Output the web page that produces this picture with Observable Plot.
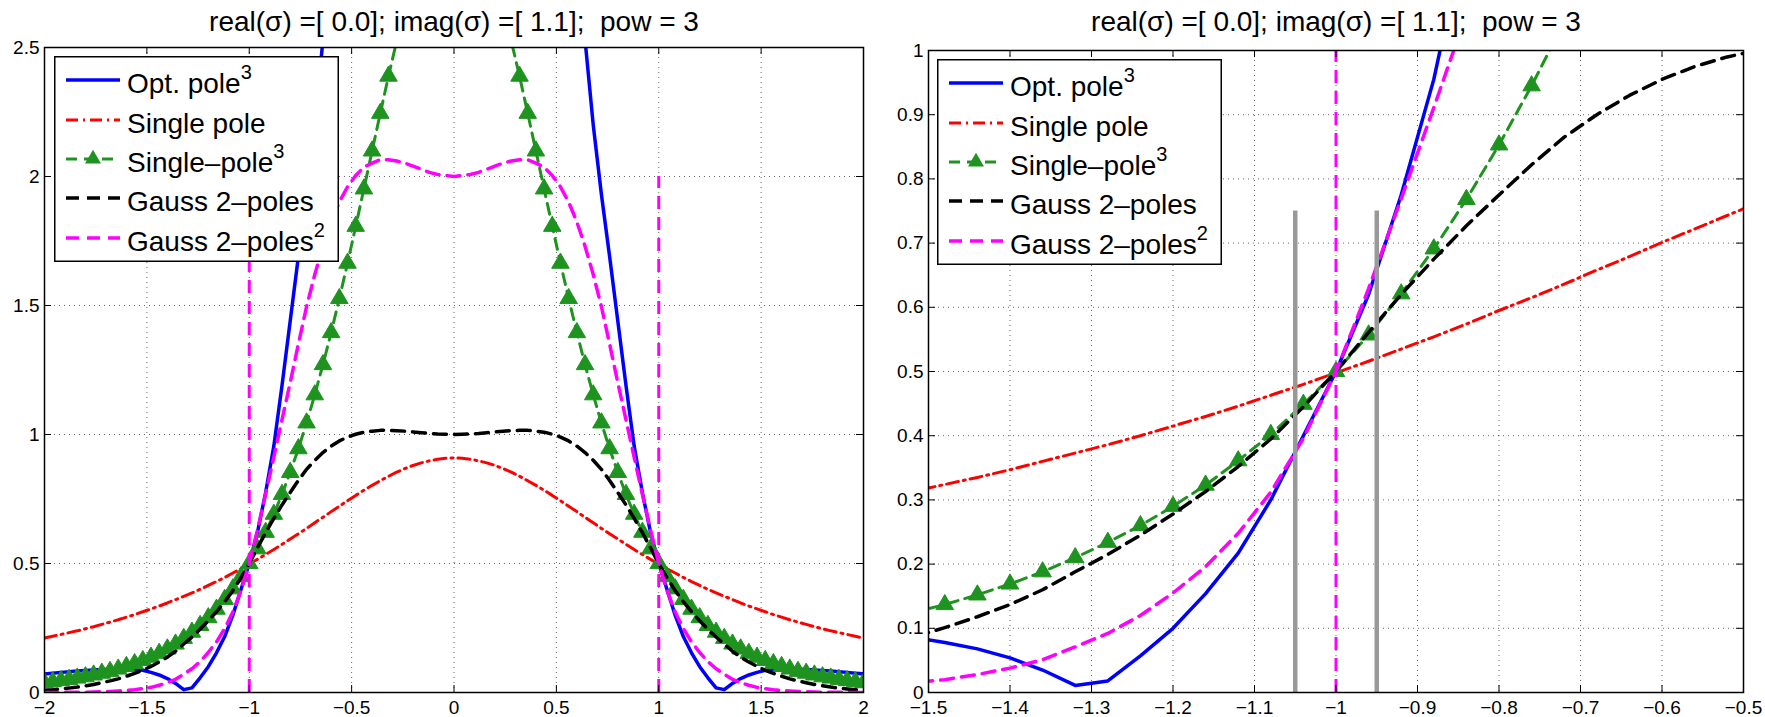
<!DOCTYPE html>
<html>
<head>
<meta charset="utf-8">
<script src="https://cdn.jsdelivr.net/npm/d3@7"></script>
<script src="https://cdn.jsdelivr.net/npm/@observablehq/plot@0.6"></script>
<style>
  html, body { margin: 0; padding: 0; background: #fff; }
  #wrap { position: relative; width: 1765px; height: 717px; background: #fff; overflow: hidden; font-family: "Liberation Sans", Arial, sans-serif; }
  .panel { position: absolute; top: 0; }
  .legend { position: absolute; }
</style>
</head>
<body>
<div id="wrap">
  <div id="left" class="panel" style="left:0px"></div>
  <div id="right" class="panel" style="left:880px"></div>
</div>
<script>
// ---- data ----
const xs = [-2, -1.96, -1.92, -1.88, -1.84, -1.8, -1.76, -1.72, -1.68, -1.64, -1.6, -1.56, -1.52, -1.48, -1.44, -1.4, -1.36, -1.32, -1.28, -1.24, -1.2, -1.16, -1.12, -1.08, -1.04, -1, -0.96, -0.92, -0.88, -0.84, -0.8, -0.76, -0.72, -0.68, -0.64, -0.6, -0.56, -0.52, -0.48, -0.44, -0.4, -0.36, -0.32, -0.28, -0.24, -0.2, -0.16, -0.12, -0.08, -0.04, 0, 0.04, 0.08, 0.12, 0.16, 0.2, 0.24, 0.28, 0.32, 0.36, 0.4, 0.44, 0.48, 0.52, 0.56, 0.6, 0.64, 0.68, 0.72, 0.76, 0.8, 0.84, 0.88, 0.92, 0.96, 1, 1.04, 1.08, 1.12, 1.16, 1.2, 1.24, 1.28, 1.32, 1.36, 1.4, 1.44, 1.48, 1.52, 1.56, 1.6, 1.64, 1.68, 1.72, 1.76, 1.8, 1.84, 1.88, 1.92, 1.96, 2];

const optPole3 = [0.072, 0.075, 0.078, 0.080, 0.083, 0.085, 0.087, 0.089, 0.090, 0.091, 0.091, 0.090, 0.086, 0.078, 0.068, 0.054, 0.035, 0.011, 0.018, 0.057, 0.100, 0.154, 0.217, 0.30, 0.40, 0.50, 0.62, 0.775, 0.955, 1.19, 1.44, 1.69, 1.93, 2.20, 2.53, 2.95, 3.4, 3.9, 4.4, 4.9, 5.3, 5.7, 6.0, 6.3, 6.5, 6.7, 6.85, 6.95, 7.0, 7.05, 7.05, 7.05, 7.0, 6.95, 6.85, 6.7, 6.5, 6.3, 6.0, 5.7, 5.3, 4.9, 4.4, 3.9, 3.4, 2.95, 2.53, 2.20, 1.93, 1.69, 1.44, 1.19, 0.955, 0.775, 0.62, 0.50, 0.40, 0.30, 0.217, 0.154, 0.100, 0.057, 0.018, 0.011, 0.035, 0.054, 0.068, 0.078, 0.086, 0.090, 0.091, 0.091, 0.090, 0.089, 0.087, 0.085, 0.083, 0.080, 0.078, 0.075, 0.072];

const singlePole = [0.211, 0.218, 0.225, 0.232, 0.239, 0.247, 0.255, 0.264, 0.273, 0.282, 0.292, 0.302, 0.313, 0.324, 0.335, 0.347, 0.360, 0.373, 0.386, 0.400, 0.415, 0.430, 0.446, 0.463, 0.480, 0.498, 0.516, 0.535, 0.554, 0.574, 0.595, 0.615, 0.636, 0.658, 0.679, 0.701, 0.722, 0.743, 0.764, 0.784, 0.803, 0.821, 0.838, 0.854, 0.868, 0.880, 0.890, 0.898, 0.904, 0.908, 0.909, 0.908, 0.904, 0.898, 0.890, 0.880, 0.868, 0.854, 0.838, 0.821, 0.803, 0.784, 0.764, 0.743, 0.722, 0.701, 0.679, 0.658, 0.636, 0.615, 0.595, 0.574, 0.554, 0.535, 0.516, 0.498, 0.480, 0.463, 0.446, 0.430, 0.415, 0.400, 0.386, 0.373, 0.360, 0.347, 0.335, 0.324, 0.313, 0.302, 0.292, 0.282, 0.273, 0.264, 0.255, 0.247, 0.239, 0.232, 0.225, 0.218, 0.211];

const singlePole3 = [0.038, 0.042, 0.046, 0.051, 0.056, 0.061, 0.068, 0.075, 0.082, 0.091, 0.101, 0.112, 0.124, 0.137, 0.152, 0.169, 0.188, 0.210, 0.234, 0.260, 0.290, 0.323, 0.361, 0.402, 0.449, 0.500, 0.557, 0.621, 0.691, 0.768, 0.853, 0.945, 1.045, 1.154, 1.271, 1.395, 1.527, 1.664, 1.807, 1.952, 2.099, 2.245, 2.389, 2.524, 2.651, 2.764, 2.862, 2.941, 2.999, 3.035, 3.047, 3.035, 2.999, 2.941, 2.862, 2.764, 2.651, 2.524, 2.389, 2.245, 2.099, 1.952, 1.807, 1.664, 1.527, 1.395, 1.271, 1.154, 1.045, 0.945, 0.853, 0.768, 0.691, 0.621, 0.557, 0.500, 0.449, 0.402, 0.361, 0.323, 0.290, 0.260, 0.234, 0.210, 0.188, 0.169, 0.152, 0.137, 0.124, 0.112, 0.101, 0.091, 0.082, 0.075, 0.068, 0.061, 0.056, 0.051, 0.046, 0.042, 0.038];

const gauss2Poles = [0.009, 0.011, 0.014, 0.017, 0.021, 0.026, 0.031, 0.038, 0.045, 0.053, 0.063, 0.074, 0.086, 0.101, 0.118, 0.137, 0.160, 0.188, 0.215, 0.245, 0.278, 0.313, 0.352, 0.395, 0.445, 0.500, 0.561, 0.620, 0.675, 0.727, 0.775, 0.822, 0.865, 0.900, 0.930, 0.955, 0.975, 0.990, 1.001, 1.009, 1.013, 1.016, 1.016, 1.015, 1.013, 1.010, 1.007, 1.004, 1.002, 1.001, 1.000, 1.001, 1.002, 1.004, 1.007, 1.010, 1.013, 1.015, 1.016, 1.016, 1.013, 1.009, 1.001, 0.990, 0.975, 0.955, 0.930, 0.900, 0.865, 0.822, 0.775, 0.727, 0.675, 0.620, 0.561, 0.500, 0.445, 0.395, 0.352, 0.313, 0.278, 0.245, 0.215, 0.188, 0.160, 0.137, 0.118, 0.101, 0.086, 0.074, 0.063, 0.053, 0.045, 0.038, 0.031, 0.026, 0.021, 0.017, 0.014, 0.011, 0.009];

const gauss2PolesSq = [0.000, 0.000, 0.000, 0.001, 0.001, 0.001, 0.002, 0.003, 0.004, 0.006, 0.008, 0.011, 0.015, 0.020, 0.028, 0.038, 0.051, 0.071, 0.092, 0.120, 0.155, 0.196, 0.248, 0.312, 0.396, 0.500, 0.629, 0.769, 0.911, 1.057, 1.201, 1.351, 1.496, 1.620, 1.730, 1.824, 1.901, 1.960, 2.004, 2.036, 2.052, 2.065, 2.065, 2.060, 2.052, 2.040, 2.028, 2.016, 2.008, 2.004, 2.000, 2.004, 2.008, 2.016, 2.028, 2.040, 2.052, 2.060, 2.065, 2.065, 2.052, 2.036, 2.004, 1.960, 1.901, 1.824, 1.730, 1.620, 1.496, 1.351, 1.201, 1.057, 0.911, 0.769, 0.629, 0.500, 0.396, 0.312, 0.248, 0.196, 0.155, 0.120, 0.092, 0.071, 0.051, 0.038, 0.028, 0.020, 0.015, 0.011, 0.008, 0.006, 0.004, 0.003, 0.002, 0.001, 0.001, 0.001, 0.000, 0.000, 0.000];

const cutoffX = [-1, 1];
const cutoffLow = [0, 0];
const cutoffHigh = [2, 2];
const windowX = [-1.05, -0.95];
const windowLow = [0, 0];
const windowHigh = [0.75, 0.75];

const xTicksLeft = [-2, -1.5, -1, -0.5, 0, 0.5, 1, 1.5, 2];
const yTicksLeft = [0, 0.5, 1, 1.5, 2, 2.5];
const xTicksRight = [-1.5, -1.4, -1.3, -1.2, -1.1, -1, -0.9, -0.8, -0.7, -0.6, -0.5];
const yTicksRight = [0, 0.1, 0.2, 0.3, 0.4, 0.5, 0.6, 0.7, 0.8, 0.9, 1];

const titleText = "real(σ) =[ 0.0]; imag(σ) =[ 1.1];  pow = 3";
const legendNames = ["Opt. pole", "Single pole", "Single\u2013pole", "Gauss 2\u2013poles", "Gauss 2\u2013poles"];
const legendSup = ["3", "", "3", "", "2"];

// ---- styles ----
const FONT = '"Liberation Sans", Arial, Helvetica, sans-serif';
const BLUE = "#0000ff", RED = "#ff0000", GREEN = "#1f931f", BLACK = "#000000", MAGENTA = "#ff00ff", GRAY = "#999999";
const lineStyles = [
  {stroke: BLUE, strokeWidth: 3.5, dash: null},
  {stroke: RED, strokeWidth: 3, dash: "12,5,2,5"},
  {stroke: GREEN, strokeWidth: 3, dash: "11,7"},
  {stroke: BLACK, strokeWidth: 3.5, dash: "13,8"},
  {stroke: MAGENTA, strokeWidth: 3.5, dash: "13,8"}
];
const fmt = d3.format("~g");

const rows = xs.map((x, i) => ({
  x, opt: optPole3[i], single: singlePole[i], single3: singlePole3[i], gauss: gauss2Poles[i], gaussSq: gauss2PolesSq[i]
}));
const cutoffRows = cutoffX.map((x, i) => ({x, y1: cutoffLow[i], y2: cutoffHigh[i]}));
const windowRows = windowX.map((x, i) => ({x, y1: windowLow[i], y2: windowHigh[i]}));

function panel(o) {
  const keys = ["opt", "single", "single3", "gauss", "gaussSq"];
  const fh = 717 - o.mt - 25, fw = o.width - o.ml - o.mr, T = 7;
  const marks = [
    Plot.ruleX(o.xTicks, {stroke: "#000", strokeOpacity: 0.6, strokeWidth: 1, strokeDasharray: "1,4"}),
    Plot.ruleY(o.yTicks, {stroke: "#000", strokeOpacity: 0.6, strokeWidth: 1, strokeDasharray: "1,4"})
  ];
  keys.forEach((k, i) => {
    const s = lineStyles[i];
    marks.push(Plot.line(rows, {x: "x", y: k, stroke: s.stroke, strokeWidth: s.strokeWidth,
      strokeDasharray: s.dash || undefined, clip: true}));
    if (k === "single3") {
      marks.push(Plot.dot(rows, {x: "x", y: k, symbol: "triangle", r: 6.5, fill: GREEN, stroke: GREEN, strokeWidth: 1, clip: true}));
    }
  });
  marks.push(Plot.ruleX(cutoffRows, {x: "x", y1: "y1", y2: "y2", stroke: MAGENTA, strokeWidth: 3, strokeDasharray: "13,8", clip: true}));
  if (o.showWindow) {
    marks.push(Plot.ruleX(windowRows, {x: "x", y1: "y1", y2: "y2", stroke: GRAY, strokeWidth: 4.5, clip: true}));
  }
  // inward tick marks on all four sides (MATLAB style)
  marks.push(Plot.tickX(o.xTicks, {x: d => d, insetTop: fh - T, stroke: "#000", strokeWidth: 1}));
  marks.push(Plot.tickX(o.xTicks, {x: d => d, insetBottom: fh - T, stroke: "#000", strokeWidth: 1}));
  marks.push(Plot.tickY(o.yTicks, {y: d => d, insetRight: fw - T, stroke: "#000", strokeWidth: 1}));
  marks.push(Plot.tickY(o.yTicks, {y: d => d, insetLeft: fw - T, stroke: "#000", strokeWidth: 1}));
  marks.push(Plot.frame({stroke: "#000", strokeWidth: 1.5}));
  marks.push(Plot.text([titleText], {frameAnchor: "top", dy: o.titleDy, lineAnchor: "bottom", fontSize: 28, fill: "#000"}));
  return Plot.plot({
    width: o.width, height: 717,
    marginLeft: o.ml, marginRight: o.mr, marginTop: o.mt, marginBottom: 25,
    style: {fontFamily: FONT, fontSize: "19px", color: "#000", background: "#fff"},
    x: {domain: o.xDomain, ticks: o.xTicks, tickSize: 0, tickPadding: 8, tickFormat: fmt, label: null},
    y: {domain: o.yDomain, ticks: o.yTicks, tickSize: 0, tickPadding: 5, tickFormat: fmt, label: null},
    marks
  });
}

function legendSvg(left, top) {
  const W = 285, H = 206;
  const centers = [24, 64, 103, 142, 182];
  let s = `<svg class="legend" style="left:${left}px;top:${top}px" width="${W}" height="${H}" xmlns="http://www.w3.org/2000/svg">`;
  s += `<rect x="0.75" y="0.75" width="${W - 1.5}" height="${H - 1.5}" fill="#fff" stroke="#000" stroke-width="1.5"/>`;
  centers.forEach((cy, i) => {
    const st = lineStyles[i];
    s += `<line x1="12" x2="66" y1="${cy}" y2="${cy}" stroke="${st.stroke}" stroke-width="${st.strokeWidth}" ${st.dash ? `stroke-dasharray="${st.dash}"` : ""}/>`;
    if (i === 2) {
      s += `<path transform="translate(39,${cy})" d="${d3.symbol(d3.symbolTriangle, 110)()}" fill="${GREEN}"/>`;
    }
    s += `<text x="73" y="${cy + 13}" font-family='${FONT}' font-size="28" fill="#000">${legendNames[i]}`;
    if (legendSup[i]) s += `<tspan dy="-14" font-size="20">${legendSup[i]}</tspan>`;
    s += `</text>`;
  });
  s += `</svg>`;
  return s;
}

const left = panel({width: 880, ml: 44, mr: 17, mt: 47, titleDy: -17,
  xDomain: [-2, 2], yDomain: [0, 2.5], xTicks: xTicksLeft, yTicks: yTicksLeft, showWindow: false});
const right = panel({width: 885, ml: 48, mr: 22, mt: 50, titleDy: -20,
  xDomain: [-1.5, -0.5], yDomain: [0, 1], xTicks: xTicksRight, yTicks: yTicksRight, showWindow: true});
document.getElementById("left").appendChild(left);
document.getElementById("right").appendChild(right);
document.getElementById("wrap").insertAdjacentHTML("beforeend", legendSvg(54, 56) + legendSvg(937, 59));
</script>
</body>
</html>
